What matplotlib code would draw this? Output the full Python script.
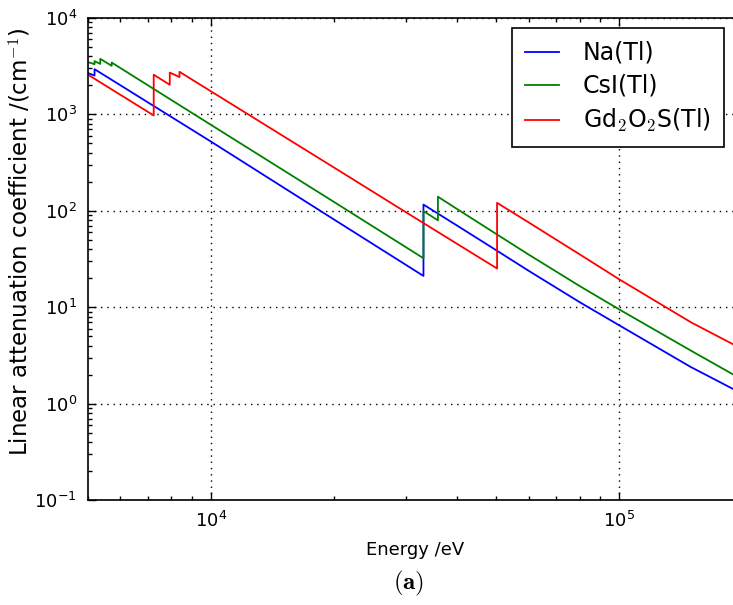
import matplotlib
matplotlib.use("Agg")
import matplotlib.pyplot as plt
from matplotlib.ticker import LogLocator, NullFormatter

plt.rcParams['mathtext.fontset'] = 'cm'
plt.rcParams['font.family'] = ['DejaVu Sans']
plt.rcParams['lines.scale_dashes'] = False

# Photon energies (eV) and linear attenuation coefficients (1/cm).
# Absorption edges appear as repeated energies with pre/post-edge values.
nai_energy = [5000, 5188, 5188, 10000, 20000, 33169, 33169, 40000, 50000,
              60000, 80000, 100000, 150000, 200000]
nai_mu = [2680, 2530, 2945, 523, 81.5, 21.1, 116, 70.7, 39.0,
          23.9, 11.3, 6.5, 2.39, 1.27]

csi_energy = [5000, 5188, 5188, 5359, 5359, 5714, 5714, 10000, 20000,
              33169, 33169, 35985, 35985, 40000, 50000, 60000, 80000,
              100000, 150000, 200000]
csi_mu = [3485, 3320, 3565, 3340, 3770, 3190, 3450, 780, 124,
          32.2, 99.3, 79.6, 140, 105, 57.5, 35.2, 16.6,
          9.5, 3.54, 1.78]

gos_energy = [5000, 7243, 7243, 7930, 7930, 8376, 8376, 10000, 20000,
              30000, 40000, 50239, 50239, 60000, 80000, 100000, 150000, 200000]
gos_mu = [2580, 975, 2580, 2029, 2716, 2438, 2765, 1738, 282,
          97, 45.7, 25.2, 121, 75.9, 35.4, 19.5, 6.97, 3.69]

labels = ['Na(Tl)', 'CsI(Tl)', r'Gd$_2$O$_2$S(Tl)']
colors = ['b', 'g', 'r']

fig = plt.figure(figsize=(7.33, 6.05), dpi=100)
ax = fig.add_axes([88 / 733, 105 / 605, (742 - 88) / 733, 482 / 605])

for e, mu, lab, c in zip([nai_energy, csi_energy, gos_energy],
                         [nai_mu, csi_mu, gos_mu], labels, colors):
    ax.plot(e, mu, color=c, lw=1.3, label=lab)

ax.set_xscale('log')
ax.set_yscale('log')
ax.set_xlim(5000, 2e5)
ax.set_ylim(0.1, 1e4)

ax.yaxis.set_major_locator(LogLocator(base=10, numticks=10))
ax.yaxis.set_minor_locator(LogLocator(base=10, subs=range(2, 10), numticks=20))
ax.yaxis.set_minor_formatter(NullFormatter())
ax.xaxis.set_minor_formatter(NullFormatter())

ax.tick_params(which='both', direction='in', top=True, right=True,
               labelsize=13, width=1)
ax.tick_params(which='major', length=6, pad=8)
ax.tick_params(which='minor', length=3)
for s in ax.spines.values():
    s.set_linewidth(1.2)

ax.grid(True, which='major', color='k', linestyle=(0, (1, 3.5)), lw=1.0)

ax.set_xlabel('Energy /eV', fontsize=13, labelpad=7)
ax.set_ylabel(r'Linear attenuation coefficient /(cm$^{-1}$)', fontsize=16.5)
ax.yaxis.set_label_coords((33 - 88) / 654, (500 - 242) / 482)

leg = ax.legend(loc='upper left', bbox_to_anchor=(512 / 733, 1 - 28 / 605),
                bbox_transform=fig.transFigure, borderaxespad=0,
                fontsize=17, fancybox=False, framealpha=1,
                handlelength=1.45, handletextpad=1.0, labelspacing=0.38,
                borderpad=0.55)
leg.get_frame().set_edgecolor('k')
leg.get_frame().set_linewidth(1.2)

fig.text(409 / 733, 1 - 583 / 605, r'$\mathbf{(a)}$', fontsize=18,
         ha='center', va='center')

fig.savefig('out.png', dpi=100)
